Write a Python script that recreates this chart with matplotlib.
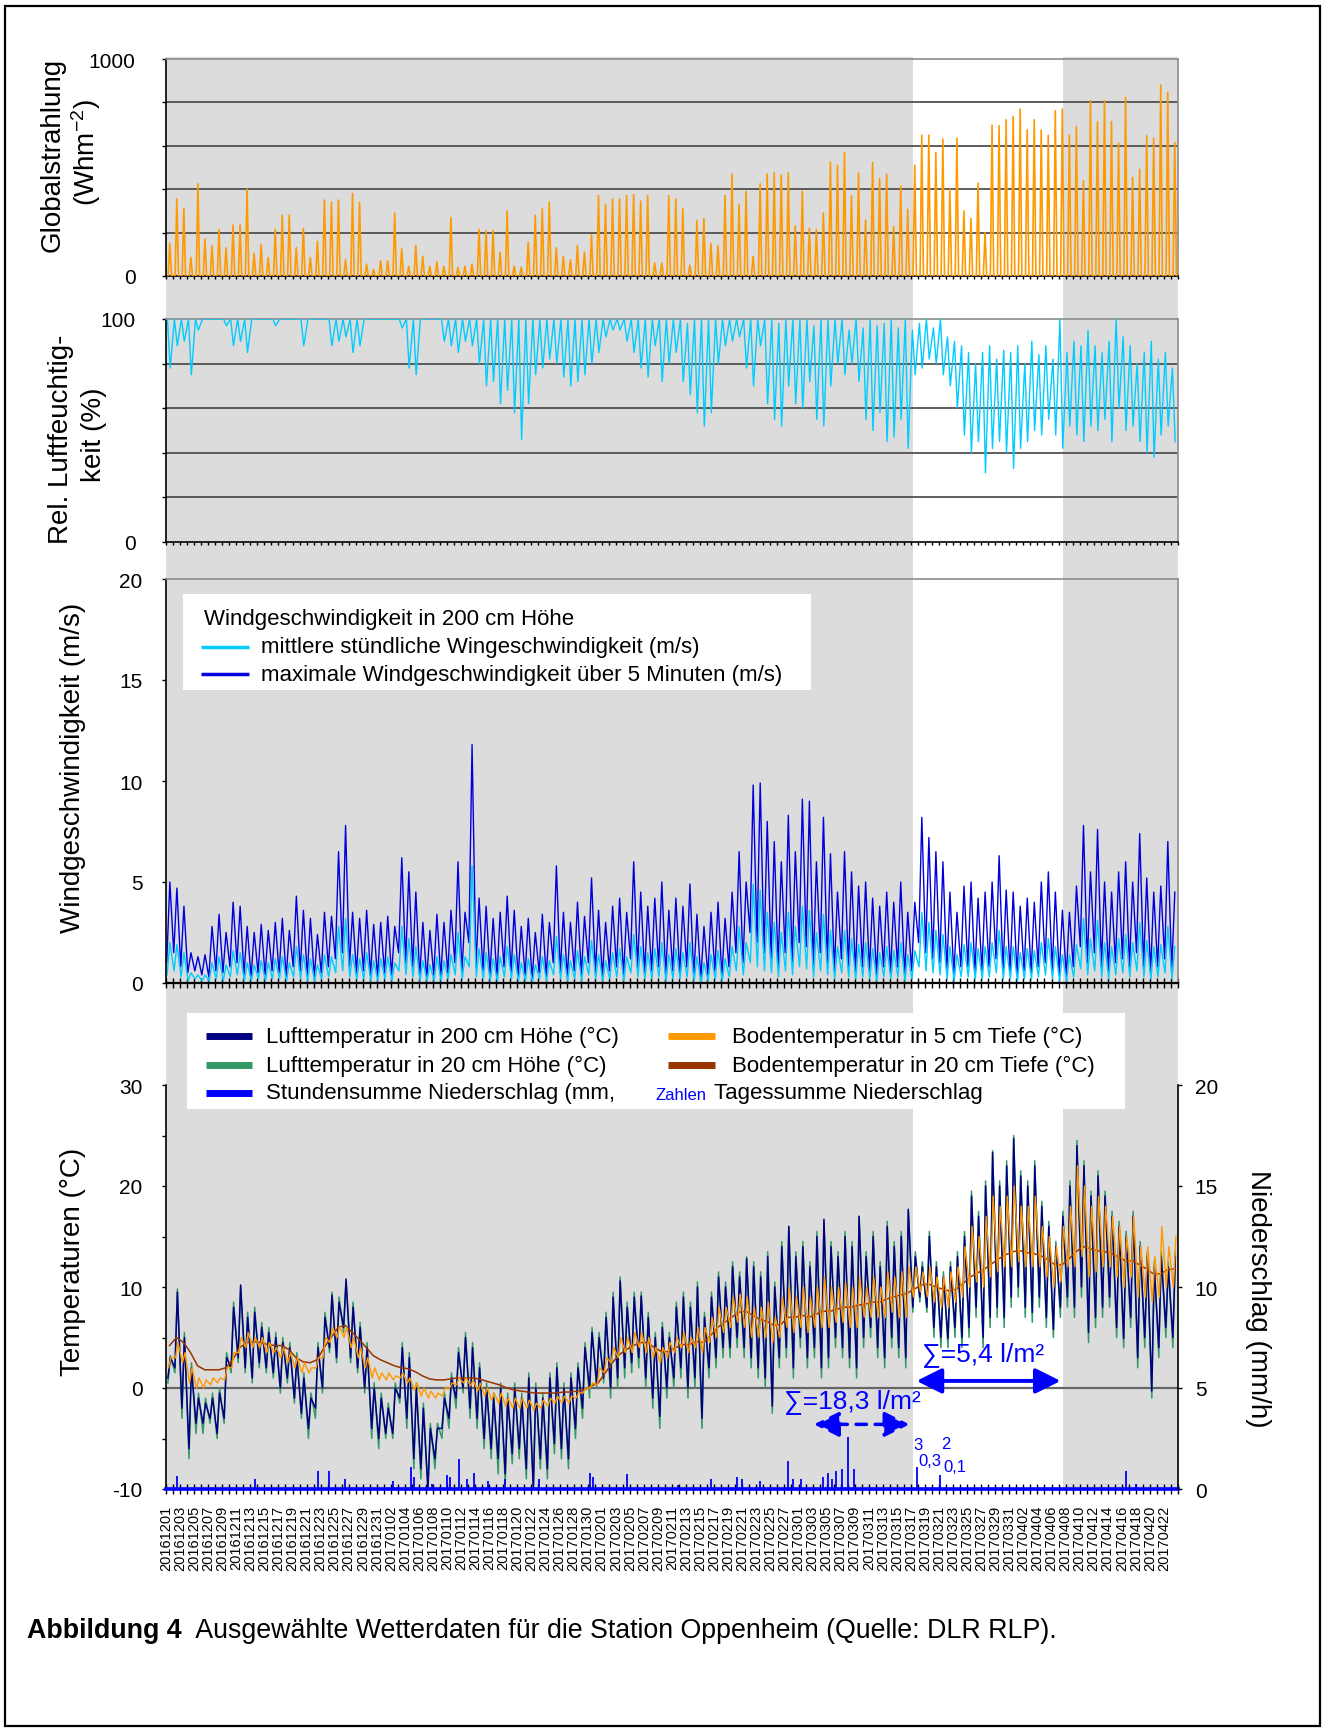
import numpy as np
import pandas as pd
import matplotlib
matplotlib.use('Agg')
import matplotlib.pyplot as plt
from matplotlib.patches import Rectangle
from matplotlib.lines import Line2D

plt.rcParams['font.family'] = ['Liberation Sans', 'DejaVu Sans']
plt.rcParams['mathtext.fontset'] = 'custom'
plt.rcParams['mathtext.rm'] = 'Liberation Sans'
plt.rcParams['mathtext.it'] = 'Liberation Sans:italic'
plt.rcParams['mathtext.bf'] = 'Liberation Sans:bold'
plt.rcParams['axes.unicode_minus'] = False

W, H = 1324, 1733

# ---------------- data: one value per day, starting 2016-12-01 ----------------
start_date = '2016-12-01'
n_days = 144
white_days = (106.3, 127.6)     # period without grey shading

# Globalstrahlung, daily peak (Whm-2)
rad_peak = [150, 355, 310, 85, 425, 170, 140, 215, 130, 235,
            235, 400, 105, 145, 85, 215, 280, 280, 130, 220,
            85, 160, 350, 340, 350, 75, 380, 340, 55, 30,
            70, 70, 290, 125, 45, 140, 90, 45, 65, 45,
            270, 40, 45, 55, 215, 210, 210, 110, 300, 45,
            40, 155, 280, 310, 340, 130, 90, 75, 140, 110,
            190, 370, 330, 355, 355, 370, 375, 345, 370, 60,
            60, 370, 355, 310, 50, 255, 265, 150, 140, 370,
            470, 330, 390, 90, 425, 470, 475, 465, 475, 230,
            390, 220, 215, 290, 525, 510, 570, 369, 474, 258,
            523, 449, 469, 228, 415, 308, 511, 649, 649, 569,
            631, 400, 635, 300, 265, 428, 200, 695, 692, 720,
            735, 769, 674, 720, 672, 649, 762, 769, 649, 689,
            438, 808, 711, 808, 712, 612, 823, 454, 492, 646,
            634, 880, 846, 615]

# relative humidity (%), nightly high and afternoon low
rh_high = [100, 100, 100, 100, 100, 100, 100, 100, 100, 100,
           100, 100, 100, 100, 100, 100, 100, 100, 100, 100,
           100, 100, 100, 100, 100, 100, 100, 100, 100, 100,
           100, 100, 100, 100, 100, 100, 100, 100, 100, 100,
           100, 100, 100, 100, 100, 100, 100, 100, 100, 100,
           100, 100, 100, 100, 100, 100, 100, 100, 100, 100,
           100, 100, 100, 100, 100, 100, 100, 100, 100, 100,
           100, 100, 100, 100, 98, 100, 100, 100, 100, 100,
           100, 100, 100, 100, 100, 100, 100, 98, 100, 100,
           100, 100, 97, 100, 100, 100, 100, 95, 100, 96,
           100, 97, 98, 100, 96, 100, 95, 98, 100, 96,
           100, 92, 90, 88, 85, 80, 85, 88, 82, 86,
           85, 88, 80, 90, 84, 88, 82, 100, 85, 90,
           88, 95, 88, 85, 90, 100, 92, 88, 80, 85,
           90, 82, 85, 78]
rh_low = [78, 88, 90, 75, 95, 100, 100, 100, 97, 88,
          90, 85, 100, 100, 100, 97, 100, 100, 100, 88,
          100, 100, 100, 88, 90, 92, 85, 88, 100, 100,
          100, 100, 100, 96, 78, 75, 100, 100, 100, 90,
          88, 85, 90, 88, 80, 70, 72, 62, 68, 58,
          46, 62, 75, 78, 82, 80, 74, 70, 72, 75,
          80, 85, 92, 95, 95, 90, 85, 78, 74, 88,
          72, 80, 85, 72, 66, 58, 52, 58, 80, 88,
          90, 92, 78, 70, 88, 62, 55, 52, 70, 62,
          60, 72, 55, 52, 70, 80, 75, 80, 72, 55,
          50, 58, 45, 47, 55, 42, 75, 78, 82, 80,
          75, 70, 60, 48, 40, 45, 31, 42, 45, 40,
          33, 42, 45, 50, 48, 55, 48, 42, 52, 48,
          45, 52, 50, 55, 45, 60, 50, 52, 45, 40,
          38, 48, 52, 45]

# wind (m/s): 5-minute maximum and hourly mean, daily high / low
wind_max_hi = [5.0, 4.7, 3.8, 1.5, 1.3, 1.4, 2.8, 3.4, 2.5, 4.0,
               3.8, 2.8, 2.5, 2.9, 2.6, 3.0, 3.2, 2.6, 4.3, 3.6,
               3.2, 2.4, 3.5, 3.3, 6.5, 7.8, 3.5, 3.2, 3.6, 2.9,
               3.0, 3.3, 2.8, 6.2, 5.5, 4.5, 3.0, 2.6, 3.4, 3.0,
               3.6, 6.0, 3.5, 11.8, 4.2, 3.8, 3.2, 3.5, 4.3, 3.6,
               2.8, 3.2, 2.5, 3.4, 3.0, 5.8, 3.5, 3.0, 4.0, 3.3,
               5.2, 3.6, 3.0, 3.8, 4.2, 3.5, 6.0, 4.5, 3.8, 4.2,
               5.0, 3.6, 4.2, 3.8, 4.9, 3.4, 2.8, 3.5, 4.0, 3.2,
               4.5, 6.5, 5.0, 9.8, 9.9, 8.0, 7.0, 6.0, 8.3, 6.5,
               9.1, 9.0, 6.0, 8.2, 6.4, 4.5, 6.5, 5.5, 4.8, 5.0,
               4.2, 3.8, 4.5, 4.0, 5.0, 3.5, 4.0, 8.2, 7.2, 6.5,
               6.0, 4.5, 3.5, 4.8, 5.0, 4.2, 4.5, 5.0, 6.3, 4.6,
               4.5, 3.8, 4.2, 4.0, 5.0, 5.5, 4.5, 3.6, 3.5, 4.8,
               7.8, 5.5, 7.6, 5.0, 4.5, 5.5, 6.0, 5.0, 7.4, 5.2,
               4.5, 4.8, 7.0, 4.5]
wind_max_lo = [1.0, 1.5, 0.8, 0.5, 0.6, 0.4, 0.3, 0.6, 0.5, 0.8,
               1.0, 0.4, 0.3, 0.5, 0.4, 0.6, 0.5, 0.3, 0.8, 0.6,
               0.4, 0.3, 0.5, 0.8, 1.2, 1.5, 0.8, 0.5, 0.6, 0.4,
               0.3, 0.5, 0.4, 1.5, 1.0, 0.8, 0.3, 0.2, 0.4, 0.3,
               0.5, 1.0, 0.5, 2.0, 0.8, 0.6, 0.4, 0.3, 0.8, 0.5,
               0.3, 0.4, 0.2, 0.5, 0.3, 1.0, 0.5, 0.3, 0.6, 0.4,
               1.0, 0.5, 0.3, 0.6, 0.8, 0.4, 1.2, 0.8, 0.5, 0.6,
               0.8, 0.4, 0.6, 0.5, 0.8, 0.3, 0.2, 0.4, 0.6, 0.3,
               0.8, 1.5, 1.0, 2.5, 2.0, 1.5, 1.2, 0.8, 1.5, 1.0,
               2.0, 1.8, 0.8, 1.5, 1.0, 0.6, 1.2, 0.8, 0.5, 0.8,
               0.6, 0.4, 0.8, 0.5, 0.8, 0.4, 0.6, 2.0, 1.5, 1.2,
               1.0, 0.6, 0.4, 0.8, 0.8, 0.5, 0.6, 0.8, 1.2, 0.6,
               0.5, 0.4, 0.6, 0.5, 0.8, 1.0, 0.6, 0.4, 0.3, 0.8,
               1.8, 1.0, 1.5, 0.8, 0.6, 1.0, 1.2, 0.8, 1.5, 0.8,
               0.5, 0.8, 1.2, 0.6]
wind_mean_hi = [2.0, 1.9, 1.5, 0.5, 0.4, 0.4, 1.0, 1.3, 0.9, 1.6,
                1.5, 1.0, 0.9, 1.1, 1.0, 1.2, 1.3, 1.0, 1.8, 1.4,
                1.2, 0.9, 1.4, 1.3, 2.8, 3.2, 1.4, 1.2, 1.5, 1.1,
                1.2, 1.3, 1.0, 2.8, 2.2, 1.8, 1.1, 0.9, 1.3, 1.1,
                1.4, 2.5, 1.3, 5.8, 1.7, 1.5, 1.2, 1.3, 1.8, 1.4,
                1.0, 1.2, 0.9, 1.3, 1.1, 2.3, 1.4, 1.1, 1.6, 1.3,
                2.1, 1.4, 1.1, 1.5, 1.7, 1.3, 2.4, 1.8, 1.5, 1.7,
                2.0, 1.4, 1.7, 1.5, 2.0, 1.3, 1.0, 1.4, 1.6, 1.2,
                1.8, 2.8, 2.0, 4.9, 4.6, 3.5, 3.0, 2.5, 3.5, 2.8,
                3.8, 3.6, 2.5, 3.4, 2.6, 1.8, 2.6, 2.2, 1.9, 2.0,
                1.7, 1.5, 1.8, 1.6, 2.0, 1.4, 1.6, 3.5, 3.0, 2.6,
                2.4, 1.8, 1.4, 1.9, 2.0, 1.7, 1.8, 2.0, 2.6, 1.8,
                1.8, 1.5, 1.7, 1.6, 2.0, 2.2, 1.8, 1.4, 1.4, 1.9,
                3.2, 2.2, 3.1, 2.0, 1.8, 2.2, 2.4, 2.0, 3.0, 2.1,
                1.8, 1.9, 2.8, 1.8]
wind_mean_lo = [0.4, 0.6, 0.3, 0.1, 0.2, 0.1, 0.1, 0.2, 0.1, 0.3,
                0.4, 0.1, 0.1, 0.2, 0.1, 0.2, 0.2, 0.1, 0.3, 0.2,
                0.1, 0.1, 0.2, 0.3, 0.5, 0.6, 0.3, 0.2, 0.2, 0.1,
                0.1, 0.2, 0.1, 0.6, 0.4, 0.3, 0.1, 0.1, 0.1, 0.1,
                0.2, 0.4, 0.2, 0.8, 0.3, 0.2, 0.1, 0.1, 0.3, 0.2,
                0.1, 0.1, 0.0, 0.2, 0.1, 0.4, 0.2, 0.1, 0.2, 0.1,
                0.4, 0.2, 0.1, 0.2, 0.3, 0.1, 0.5, 0.3, 0.2, 0.2,
                0.3, 0.1, 0.2, 0.2, 0.3, 0.1, 0.0, 0.1, 0.2, 0.1,
                0.3, 0.6, 0.4, 1.0, 0.8, 0.6, 0.5, 0.3, 0.6, 0.4,
                0.8, 0.7, 0.3, 0.6, 0.4, 0.2, 0.5, 0.3, 0.2, 0.3,
                0.2, 0.1, 0.3, 0.2, 0.3, 0.1, 0.2, 0.8, 0.6, 0.5,
                0.4, 0.2, 0.1, 0.3, 0.3, 0.2, 0.2, 0.3, 0.5, 0.2,
                0.2, 0.1, 0.2, 0.2, 0.3, 0.4, 0.2, 0.1, 0.1, 0.3,
                0.7, 0.4, 0.6, 0.3, 0.2, 0.4, 0.5, 0.3, 0.6, 0.3,
                0.2, 0.3, 0.5, 0.2]

# air temperature 200 cm (°C), daily max / min
t200_max = [3, 9.5, 5, 2, -1, -1.5, -1, -0.5, 3, 8,
            10.2, 7, 7.5, 6, 5.5, 5, 4.5, 4, 3, 1,
            -1, 4, 7, 9.2, 8.5, 10.8, 8, 6, 4, 0,
            -1, -2, 0, 4, 3, 0, -2, -4, -4, -1,
            1, 3.5, 5, 4, 2, 0, -1, 0, -1, 0,
            -1, 1, 0, -1, 1, 2, 0, 1, 2, 4,
            5.5, 5, 7, 9, 10.6, 8, 9, 9.1, 7, 5,
            6, 5, 8, 9, 8, 10, 7, 9, 11, 10,
            12, 11, 12.8, 12, 11, 13, 10, 14, 16, 13,
            14, 12, 15, 16.7, 14, 13, 15, 14, 17, 13,
            15, 12, 16, 14, 15, 17.7, 13, 12, 15, 12,
            11, 12, 13, 15, 19, 17, 20, 23.3, 20, 22,
            24.7, 21, 20, 22, 18, 16, 14, 17, 20, 24,
            22, 19, 21, 19, 17, 16, 15, 17, 14, 13,
            12, 13, 12, 13]
t200_min = [1, 2, -2, -6, -3.5, -3.5, -3, -4.5, -3, 2,
            3, 2, 1, 2.5, 2, 1.5, 0, 1, -1, -2.5,
            -4, -2, 0, 4, 3, 6, 3, 2, 0, -4,
            -5, -4.5, -4.5, -1, -3, -7, -8, -10, -7, -4,
            -3, -1, 0, -2, -3, -5, -6, -7, -8.5, -6.5,
            -6, -8, -10, -7, -8, -5.5, -6, -7, -4, -2,
            0, 0.5, 1, 0, 1, 2, 2.5, 3, 1, -1,
            -2.8, 0, 1, 2, 0, 1, -3, 2, 3, 4,
            4, 5, 4, 3, 2, 1, -1.8, 3, 4, 2,
            5, 3, 4, 2, 3, 5, 4, 3, 2, 5,
            6, 4, 3, 5, 4, 3, 8, 9, 8, 6,
            5, 4.9, 6, 5, 6, 8, 5, 7, 8, 7,
            9, 10, 8, 7.5, 9, 7, 5.8, 8, 9, 8,
            10, 5.5, 7, 8, 9, 6, 4.9, 7, 3, 5,
            -0.3, 4, 6, 5]
# air temperature 20 cm (°C)
t20_max = [3.2, 9.8, 5.5, 2.5, -0.5, -1, -0.5, 0, 3.5, 8.5,
           10, 7.5, 8, 6.5, 6, 5.5, 5, 4.5, 3.5, 1.5,
           -0.5, 4.5, 7.5, 9.5, 9, 10.5, 8.5, 6.5, 4.5, 0.5,
           -0.5, -1.5, 0.5, 4.5, 3.5, 0.5, -1.5, -3.5, -3.5, -0.5,
           1.5, 4, 5.5, 4.5, 2.5, 0.5, -0.5, 0.5, -0.5, 0.5,
           -0.5, 1.5, 0.5, -0.5, 1.5, 2.5, 0.5, 1.5, 2.5, 4.5,
           6, 5.5, 7.5, 9.5, 11, 8.5, 9.5, 9.5, 7.5, 5.5,
           6.5, 5.5, 8.5, 9.5, 8.5, 10.5, 7.5, 9.5, 11.5, 10.5,
           12.5, 11.5, 13, 12.5, 11.5, 13.5, 10.5, 14.5, 16, 13.5,
           14.5, 12.5, 15.5, 16.5, 14.5, 13.5, 15.5, 14.5, 17, 13.5,
           15.5, 12.5, 16.5, 14.5, 15.5, 17.5, 13.5, 12.5, 15.5, 12.5,
           11.5, 12.5, 13.5, 15.5, 19.5, 17.5, 20.5, 23.5, 20.5, 22.5,
           25, 21.5, 20.5, 22.5, 18.5, 16.5, 14.5, 17.5, 20.5, 24.5,
           22.5, 19.5, 21.5, 19.5, 17.5, 16.5, 15.5, 17.5, 14.5, 13.5,
           12.5, 13.5, 12.5, 13.5]
t20_min = [0.5, 1.5, -3, -7, -4.5, -4.5, -3.5, -5, -3.5, 1.5,
           2.5, 1.5, 0.5, 2, 1.5, 1, -0.5, 0.5, -1.5, -3,
           -5, -3, -0.5, 3.5, 2.5, 5.5, 2.5, 1.5, -0.5, -5,
           -6, -5, -5, -1.5, -4, -8, -9, -10, -8, -5,
           -4, -2, -0.5, -3, -4, -6, -7, -8.5, -9.5, -7.5,
           -7, -9, -10, -8, -9, -6.5, -7, -8, -5, -3,
           -1, 0, 0.5, -1, 0, 1, 1.5, 2, 0, -2,
           -4, -1, 0, 1, -1, 0, -4, 1, 2, 3,
           3, 4, 3, 2, 1, 0, -2.5, 2, 3, 1,
           4, 2, 3, 1, 2, 4, 3, 2, 1, 4,
           5, 3, 2, 4, 3, 2, 7.5, 8.5, 7.5, 5,
           4, 4, 5, 4, 5, 7, 4, 6, 7, 6,
           8, 9, 7, 6.5, 8, 6, 5, 7, 8, 7,
           9, 4.5, 6, 7, 8, 5, 4, 6, 2, 4,
           -1, 3, 5, 4]
# soil temperature 5 cm (°C), daily max / min
soil5_max = [3, 4.5, 3.5, 2, 1, 0.8, 1, 1, 2, 3.5,
             5, 5.5, 5, 5, 4.5, 4, 4, 3.5, 3, 2.5,
             2, 3, 5, 6, 6.1, 6, 5, 4, 3, 2,
             1.5, 1.5, 1.2, 1.5, 1, 0.5, 0, -0.3, -0.5, 0,
             0.5, 1, 1, 0.8, 0.5, 0, -0.5, -0.5, -1, -1,
             -1, -1.2, -1.5, -1.2, -1, -0.8, -0.8, -0.8, -0.5, 0,
             0.5, 2, 3, 4, 5, 5, 5.5, 5.5, 5, 4,
             4, 4.5, 5, 5.5, 5, 6, 6, 7, 8, 8,
             9, 9.3, 9, 8, 8, 8.5, 7, 9, 10, 9,
             10, 9, 10, 11, 10, 10, 10.5, 10, 11, 10,
             11, 10, 11.5, 11, 11.5, 12, 12, 11.5, 12, 11,
             11, 11.5, 12, 14, 16, 15, 17, 19, 18, 19,
             20, 18, 18, 19, 16, 15, 14, 16, 18, 22,
             20, 18, 19, 18, 17, 16, 15, 17, 14, 14,
             13, 16, 14, 15]
soil5_min = [2, 3, 2.5, 0.5, 0, 0, 0.3, 0.5, 0.8, 2,
             3.5, 4, 4, 4, 3.5, 3.5, 3, 2.5, 2, 1.5,
             1.5, 2, 3, 4.5, 5, 5, 4, 3, 2, 1,
             0.8, 0.8, 0.8, 1, 0.5, -0.2, -0.8, -1, -1, -0.8,
             0, 0.3, 0.5, 0.2, -0.3, -0.8, -1.2, -1.5, -1.8, -2,
             -2, -2, -2.2, -2, -1.8, -1.5, -1.5, -1.5, -1, -0.5,
             0, 0.3, 1.5, 2.5, 3, 3.5, 3.5, 4, 3.5, 3,
             2.5, 3, 3.5, 4, 3.5, 4, 3.5, 4.5, 5, 5.5,
             6, 6.5, 6, 5, 5, 5, 4.5, 5, 6, 5.5,
             6, 5.5, 6, 6, 6, 6.5, 6.5, 6, 6, 7,
             7, 7, 7, 7.5, 7, 7, 9, 9.5, 9, 8.5,
             8, 8, 8.5, 9, 10, 10.5, 10, 11, 11.5, 12,
             12, 12.5, 12, 12, 12, 11, 10, 10.5, 12, 12,
             13, 11, 11.5, 12, 12, 11, 10, 11, 9, 9,
             8.5, 9, 10, 10]
# soil temperature 20 cm (°C), daily mean
soil20 = [4.2, 5, 4.5, 3.5, 2.2, 1.8, 1.8, 1.8, 2, 2.8,
          4, 4.5, 4.6, 4.5, 4.3, 4.2, 4.2, 3.8, 3, 2.6,
          2.5, 2.8, 4, 5, 6, 6.2, 5.5, 4.8, 4, 3.2,
          2.8, 2.5, 2.2, 2, 1.9, 1.6, 1.2, 0.9, 0.8, 0.8,
          0.9, 1, 1, 1, 0.9, 0.7, 0.5, 0.3, 0, -0.2,
          -0.3, -0.4, -0.5, -0.5, -0.5, -0.5, -0.4, -0.4, -0.3, -0.2,
          0.2, 0.5, 1.5, 2.5, 3.3, 3.8, 4.2, 4.5, 4.5, 4,
          3.6, 3.6, 4, 4.3, 4.3, 4.6, 4.5, 5.2, 6, 6.5,
          7, 7.5, 7.6, 7.2, 6.8, 6.6, 6.2, 6.3, 7, 7,
          7.2, 7, 7.3, 7.6, 7.6, 7.8, 8, 8, 8.2, 8.3,
          8.5, 8.5, 8.8, 9, 9.2, 9.4, 9.8, 10.2, 10.3, 10,
          9.8, 9.6, 9.8, 10.4, 11, 11.4, 11.8, 12.3, 12.8, 13.2,
          13.5, 13.6, 13.4, 13.3, 13.1, 12.7, 12.2, 12.2, 12.8, 13.5,
          14, 13.8, 13.6, 13.5, 13.3, 13, 12.6, 12.6, 12.2, 11.8,
          11.3, 11.3, 11.7, 11.8]

# hourly precipitation events (day offset, mm/h)
rain_day = [1.6, 12.6, 21.6, 23.2, 25.5, 32.3, 34.8, 35.3, 37.8, 40.0,
            40.4, 41.7, 42.8, 43.8, 45.8, 48.3, 53.1, 60.3, 60.7, 65.6,
            72.8, 77.5, 81.3, 82.0, 84.5, 88.5, 89.2, 90.3, 93.5, 94.2,
            94.8, 95.3, 96.2, 97.1, 97.9, 106.8, 110.2, 136.6, 138.0]
rain_mm = [0.65, 0.5, 0.9, 0.9, 0.5, 0.4, 1.1, 0.6, 0.25, 0.7,
           0.6, 1.5, 0.5, 0.8, 0.4, 0.5, 0.5, 0.8, 0.6, 0.75,
           0.2, 0.5, 0.6, 0.5, 0.4, 1.4, 0.5, 0.5, 0.6, 0.8,
           0.5, 0.9, 1.0, 2.55, 1.0, 1.1, 0.7, 0.9, 0.25]

date_labels = pd.date_range(start_date, periods=n_days + 1, freq='D').strftime('%Y%m%d')

# ---------------- colours ----------------
GREY = '#DCDCDC'
C_RAD = '#FF9900'
C_RH = '#00CCFF'
C_WMEAN = '#00CCFF'
C_WMAX = '#0000DD'
C_T200 = '#000080'
C_T20 = '#339966'
C_S5 = '#FF9900'
C_S20 = '#993300'
C_RAIN = '#0000FF'
GRID = '#505050'


def frect(x0, y0, x1, y1):
    return [x0 / W, 1 - y1 / H, (x1 - x0) / W, (y1 - y0) / H]


def fx(x):
    return x / W


def fy(y):
    return 1 - y / H


days = np.arange(n_days)


def daily(first, second, t1, t2):
    x = np.column_stack([days + t1, days + t2]).ravel()
    y = np.column_stack([first, second]).ravel()
    return x, y


def style_axis(ax, left_pad):
    ax.set_facecolor('none')
    ax.set_xlim(0, n_days)
    ax.set_xticks(np.arange(n_days + 1))
    ax.tick_params(axis='x', labelbottom=False)
    ax.tick_params(axis='y', direction='out', length=3, width=1,
                   labelsize=15, pad=left_pad, colors='black')
    ax.spines['left'].set_color('black')
    ax.spines['bottom'].set_color('black')
    ax.spines['top'].set_color('#8c8c8c')
    ax.spines['right'].set_color('#8c8c8c')
    for s in ax.spines.values():
        s.set_linewidth(1.2)


fig = plt.figure(figsize=(W / 100, H / 100), dpi=100)

# grey background band behind all panels
bg = fig.add_axes(frect(166, 58, 1178, 1490))
bg.set_xlim(0, n_days)
bg.set_ylim(0, 1)
bg.axvspan(0, white_days[0], color=GREY, lw=0)
bg.axvspan(white_days[1], n_days, color=GREY, lw=0)
bg.axis('off')
bg.set_zorder(0)

# ---- panel 1: Globalstrahlung
ax1 = fig.add_axes(frect(166, 60, 1178, 277))
ax1.set_zorder(2)
style_axis(ax1, 19)
for v in [200, 400, 600, 800]:
    ax1.axhline(v, color=GRID, lw=1.3, zorder=1)
zeros = np.zeros(n_days)
rx = np.column_stack([days + 0.30, days + 0.54, days + 0.78]).ravel()
ry = np.column_stack([zeros, rad_peak, zeros]).ravel()
ax1.plot(rx, ry, color=C_RAD, lw=1.2, zorder=3)
ax1.set_ylim(0, 1000)
ax1.set_yticks([0, 200, 400, 600, 800, 1000])
ax1.set_yticklabels(['0', '', '', '', '', '1000'])
ax1.tick_params(axis='x', direction='out', length=2.5, width=1)

# ---- panel 2: relative humidity
ax2 = fig.add_axes(frect(166, 320, 1178, 543))
ax2.set_zorder(2)
style_axis(ax2, 19)
for v in [20, 40, 60, 80]:
    ax2.axhline(v, color=GRID, lw=1.3, zorder=1)
hx, hy = daily(rh_high, rh_low, 0.2, 0.6)
ax2.plot(hx, hy, color=C_RH, lw=1.0, zorder=3)
ax2.set_ylim(0, 100)
ax2.set_yticks([0, 20, 40, 60, 80, 100])
ax2.set_yticklabels(['0', '', '', '', '', '100'])
ax2.tick_params(axis='x', direction='out', length=2.5, width=1)

# ---- panel 3: wind
ax3 = fig.add_axes(frect(166, 580, 1178, 984))
ax3.set_zorder(2)
style_axis(ax3, 14)
wx, wy = daily(wind_max_lo, wind_max_hi, 0.1, 0.55)
ax3.plot(wx, wy, color=C_WMAX, lw=1.0)
mx, my = daily(wind_mean_lo, wind_mean_hi, 0.15, 0.55)
ax3.plot(mx, my, color=C_WMEAN, lw=1.0)
ax3.set_ylim(0, 20)
ax3.set_yticks([0, 5, 10, 15, 20])
ax3.tick_params(axis='x', direction='inout', length=7, width=1)
ax3.spines['bottom'].set_linewidth(1.6)

# ---- panel 4: temperatures + precipitation
ax4 = fig.add_axes(frect(166, 1086, 1178, 1490))
ax4.set_zorder(2)
style_axis(ax4, 14)
ax4.spines['top'].set_visible(False)
ax4.spines['right'].set_visible(False)
ax4.axhline(0, color='#666666', lw=1.6, zorder=1)
gx, gy = daily(t20_min, t20_max, 0.27, 0.62)
ax4.plot(gx, gy, color=C_T20, lw=1.1)
tx, ty = daily(t200_min, t200_max, 0.27, 0.62)
ax4.plot(tx, ty, color=C_T200, lw=1.1)
ax4.plot(days + 0.5, soil20, color=C_S20, lw=1.1)
sx, sy = daily(soil5_min, soil5_max, 0.35, 0.7)
ax4.plot(sx, sy, color=C_S5, lw=1.0)
ax4.set_ylim(-10, 30)
ax4.set_yticks([-10, 0, 10, 20, 30])
ax4.set_yticks([-5, 5, 15, 25], minor=True)
ax4.tick_params(axis='y', which='minor', direction='out', length=3, width=1)
ax4.tick_params(axis='x', direction='inout', length=7, width=1,
                labelbottom=True, labelsize=10.5, pad=8)
ax4.set_xticklabels([d if (i % 2 == 0 and i < n_days) else ''
                     for i, d in enumerate(date_labels)], rotation=90)

ax4r = ax4.twinx()
ax4r.set_zorder(3)
ax4r.set_ylim(0, 20)
ax4r.set_yticks([0, 5, 10, 15, 20])
ax4r.tick_params(axis='y', direction='out', length=3, width=1, labelsize=15, pad=9)
for k in ['top', 'left', 'bottom']:
    ax4r.spines[k].set_visible(False)
ax4r.spines['right'].set_linewidth(1.2)
# precipitation: thin hourly spikes on a thick zero baseline
ax4r.vlines(rain_day, 0, rain_mm, color=C_RAIN, lw=1.3)
ax4r.axhline(0, color=C_RAIN, lw=2.6, clip_on=False)

# annotations for precipitation sums
ax4.text(97.7, -1.2, '∑=18,3 l/m²', color=C_RAIN, fontsize=19, ha='center', va='center')
ax4.annotate('', xy=(105.8, -3.6), xytext=(92.2, -3.6),
             arrowprops=dict(arrowstyle='<|-|>,head_length=0.7,head_width=0.35',
                             color=C_RAIN, lw=2.5, linestyle=(0, (3, 2.5)),
                             mutation_scale=22, shrinkA=0, shrinkB=0))
ax4.text(116.2, 3.4, '∑=5,4 l/m²', color=C_RAIN, fontsize=19, ha='center', va='center')
ax4.annotate('', xy=(127.3, 0.7), xytext=(106.8, 0.7),
             arrowprops=dict(arrowstyle='<|-|>,head_length=0.7,head_width=0.35',
                             color=C_RAIN, lw=2.8, mutation_scale=22,
                             shrinkA=0, shrinkB=0))
ax4.text(107.0, -5.6, '3', color=C_RAIN, fontsize=12, ha='center', va='center')
ax4.text(108.7, -7.2, '0,3', color=C_RAIN, fontsize=12, ha='center', va='center')
ax4.text(110.9, -5.5, '2', color=C_RAIN, fontsize=12, ha='center', va='center')
ax4.text(112.2, -7.8, '0,1', color=C_RAIN, fontsize=12, ha='center', va='center')

# ---- axis titles
fig.text(fx(53), fy(155), 'Globalstrahlung', rotation=90, fontsize=20, ha='center', va='center')
fig.text(fx(86), fy(153), '(Whm$^{-2}$)', rotation=90, fontsize=20, ha='center', va='center')
fig.text(fx(61), fy(439), 'Rel. Luftfeuchtig-', rotation=90, fontsize=20, ha='center', va='center')
fig.text(fx(94), fy(435), 'keit (%)', rotation=90, fontsize=20, ha='center', va='center')
fig.text(fx(73), fy(768), 'Windgeschwindigkeit (m/s)', rotation=90, fontsize=20,
         ha='center', va='center')
fig.text(fx(73), fy(1262), 'Temperaturen (°C)', rotation=90, fontsize=20,
         ha='center', va='center')
fig.text(fx(1258), fy(1299), 'Niederschlag (mm/h)', rotation=270, fontsize=20,
         ha='center', va='center')


# ---- hand-made legends
def box(x0, y0, x1, y1):
    fig.add_artist(Rectangle((fx(x0), fy(y1)), (x1 - x0) / W, (y1 - y0) / H,
                             transform=fig.transFigure, fc='white', ec='none', zorder=20))


def handle(x0, x1, y, color, lw):
    fig.add_artist(Line2D([fx(x0), fx(x1)], [fy(y), fy(y)], transform=fig.transFigure,
                          color=color, lw=lw, solid_capstyle='butt', zorder=21))


def label(x, y, s, size=16, color='black'):
    fig.text(fx(x), fy(y), s, fontsize=size, color=color, va='center', zorder=21)


box(183, 595, 811, 691)
label(204, 620, 'Windgeschwindigkeit in 200 cm Höhe')
handle(201, 249, 648, C_WMEAN, 2.5)
label(261, 648, 'mittlere stündliche Wingeschwindigkeit (m/s)')
handle(201, 249, 675, C_WMAX, 2.5)
label(261, 675, 'maximale Windgeschwindigkeit über 5 Minuten (m/s)')

box(187, 1014, 1125, 1110)
handle(206, 252, 1037, C_T200, 5)
label(266, 1037, 'Lufttemperatur in 200 cm Höhe (°C)')
handle(206, 252, 1066, C_T20, 5)
label(266, 1066, 'Lufttemperatur in 20 cm Höhe (°C)')
handle(206, 252, 1094, C_RAIN, 5)
label(266, 1094, 'Stundensumme Niederschlag (mm,')
handle(668, 715, 1037, C_S5, 5)
label(732, 1037, 'Bodentemperatur in 5 cm Tiefe (°C)')
handle(668, 715, 1066, C_S20, 5)
label(732, 1066, 'Bodentemperatur in 20 cm Tiefe (°C)')
label(655, 1096, 'Zahlen', size=12, color=C_RAIN)
label(714, 1094, 'Tagessumme Niederschlag')

# ---- frame and caption
fig.add_artist(Rectangle((fx(5), fy(1727)), 1315 / W, 1720 / H, transform=fig.transFigure,
                         fill=False, ec='black', lw=1.6, zorder=30))
t1 = fig.text(fx(27), fy(1638), 'Abbildung 4', fontsize=19.3, fontweight='bold', va='baseline')
fig.canvas.draw()
bb = t1.get_window_extent()
fig.text(bb.x1 / W, fy(1638), '  Ausgewählte Wetterdaten für die Station Oppenheim (Quelle: DLR RLP).',
         fontsize=19.3, va='baseline')

fig.savefig('out.png', dpi=100)
